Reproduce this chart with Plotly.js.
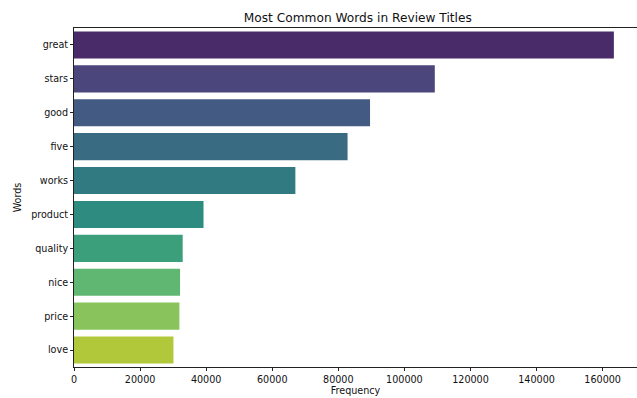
<!DOCTYPE html>
<html>
<head>
<meta charset="utf-8">
<script src="https://cdn.plot.ly/plotly-3.0.1.min.js"></script>
<style>html,body{margin:0;padding:0;background:#fff;}#chart{width:637px;height:398px;}</style>
</head>
<body>
<div id="chart"></div>
<script>
const words = ["great", "stars", "good", "five", "works", "product", "quality", "nice", "price", "love"];
const frequencies = [163400, 109200, 89600, 82800, 67000, 39200, 32900, 32100, 31900, 30100];
const barColors = ["#492b69", "#4b477c", "#435b82", "#396b82", "#327a81", "#2e8b7f", "#3b9f7b", "#60b772", "#88c45b", "#b2c83b"];
const xTicks = [0, 20000, 40000, 60000, 80000, 100000, 120000, 140000, 160000];

const font = "DejaVu Sans, sans-serif";
const trace = {
  type: "bar",
  orientation: "h",
  x: frequencies,
  y: words,
  marker: {color: barColors, line: {width: 0}},
  hoverinfo: "skip"
};
const layout = {
  width: 637, height: 398,
  margin: {l: 74, r: 0, t: 28, b: 31},
  paper_bgcolor: "#fff", plot_bgcolor: "#fff",
  bargap: 0.2,
  showlegend: false,
  font: {family: font, color: "#111", size: 9.6},
  title: {text: "Most Common Words in Review Titles", font: {family: font, size: 12.2, color: "#111"},
          x: 357.8/637, xref: "container", xanchor: "center", y: 1 - 17.5/398, yref: "container", yanchor: "middle"},
  xaxis: {
    range: [0, 170400], tickvals: xTicks, ticktext: xTicks.map(String),
    showgrid: false, zeroline: false, showline: true, mirror: true, linecolor: "#222", linewidth: 1,
    ticks: "outside", ticklen: 3, tickwidth: 1, tickcolor: "#222",
    tickfont: {family: font, size: 9.6, color: "#111"},
    title: {text: "Frequency", font: {family: font, size: 9.6, color: "#111"}, standoff: 2}
  },
  yaxis: {
    type: "category", range: [9.5, -0.5],
    showgrid: false, zeroline: false, showline: true, mirror: false, linecolor: "#222", linewidth: 1,
    ticks: "outside", ticklen: 3, tickwidth: 1, tickcolor: "#222",
    tickfont: {family: font, size: 9.6, color: "#111"},
    title: {text: "Words", font: {family: font, size: 9.6, color: "#111"}, standoff: 7}
  }
};
Plotly.newPlot("chart", [trace], layout, {displayModeBar: false, staticPlot: true});
</script>
</body>
</html>
